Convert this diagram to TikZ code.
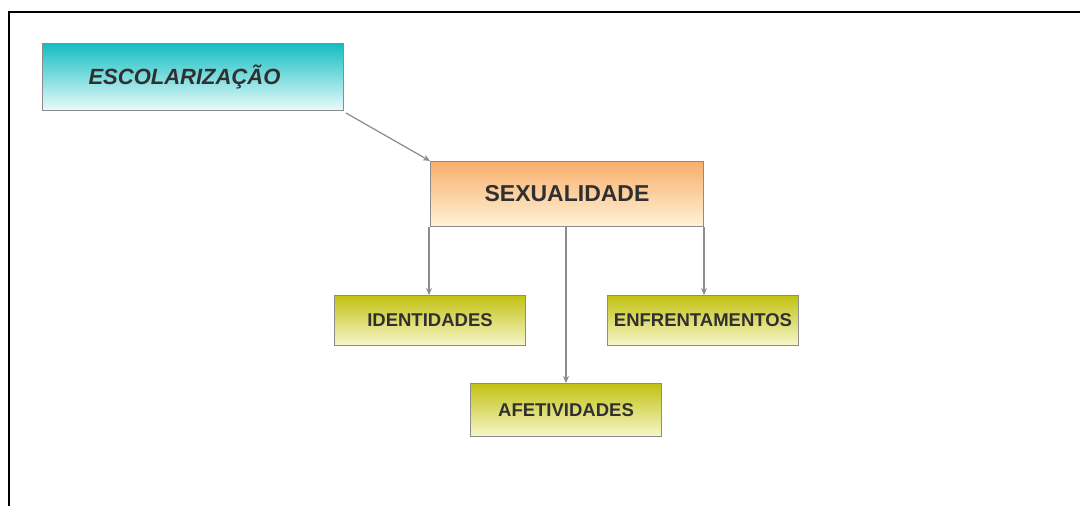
\documentclass[tikz,border=0pt]{standalone}
\usepackage{fontspec}
\setmainfont{Liberation Sans}
\usetikzlibrary{arrows.meta}
\definecolor{txt}{HTML}{303030}
\definecolor{edge}{HTML}{8C8C8C}
\definecolor{tealtop}{HTML}{14BEC2}
\definecolor{tealbot}{HTML}{EAFBFB}
\definecolor{orgtop}{HTML}{F8AE6C}
\definecolor{orgbot}{HTML}{FFF3D6}
\definecolor{olvtop}{HTML}{C2C212}
\definecolor{olvbot}{HTML}{F6F6CC}
\tikzset{
  box/.style={draw=edge, line width=1pt, inner sep=0pt, anchor=north west, text=txt, font=\bfseries},
  tealbox/.style={box, top color=tealtop, bottom color=tealbot},
  orgbox/.style={box, top color=orgtop, bottom color=orgbot},
  olvbox/.style={box, top color=olvtop, bottom color=olvbot, font=\bfseries\fontsize{18.5}{21}\selectfont},
  conn/.style={draw=edge, line width=1.2pt, -{Stealth[length=7pt,width=6pt]}}
}
\begin{document}
\begin{tikzpicture}[x=1pt,y=-1pt]
\useasboundingbox (0,0) rectangle (1080,506);
\fill[white] (0,0) rectangle (1080,506);
\draw[black, line width=2.2pt] (9,506) -- (9,12) -- (1080,12);
\node[tealbox, minimum width=301pt, minimum height=67pt, font=\bfseries\itshape\fontsize{22}{26}\selectfont] (esc) at (42,43) {\raisebox{5pt}{\hspace*{-17pt}ESCOLARIZAÇÃO}};
\node[orgbox, minimum width=273pt, minimum height=65pt, font=\bfseries\fontsize{23}{27}\selectfont] (sex) at (430,161) {SEXUALIDADE};
\node[olvbox, minimum width=191pt, minimum height=50pt] (ide) at (334,295) {IDENTIDADES};
\node[olvbox, minimum width=191pt, minimum height=50pt] (enf) at (607,295) {ENFRENTAMENTOS};
\node[olvbox, minimum width=191pt, minimum height=53pt] (afe) at (470,383) {AFETIVIDADES};
\coordinate (s1) at ([xshift=-1pt]sex.south west);
\coordinate (s2) at ([xshift=-1pt]sex.south);
\coordinate (s3) at (sex.south east);
\draw[conn] ([shift={(2pt,-2pt)}]esc.south east) -- (sex.north west);
\draw[conn] (s1) -- (s1 |- ide.north);
\draw[conn] (s2) -- (s2 |- afe.north);
\draw[conn] (s3) -- (s3 |- enf.north);
\end{tikzpicture}
\end{document}
